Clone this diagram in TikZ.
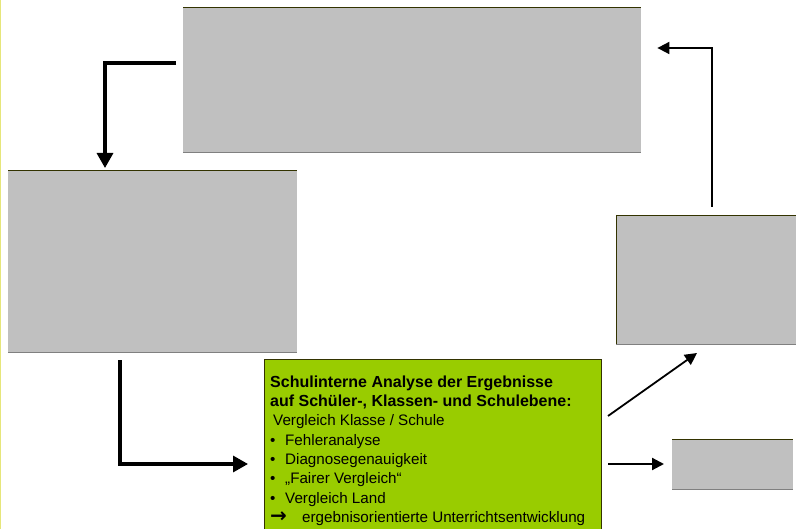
\documentclass[tikz,border=0pt]{standalone}
\usepackage{fontspec}
\setmainfont{Liberation Sans}
\newfontfamily\arrowfont{DejaVu Sans}
\usepackage{tikz}
\usetikzlibrary{arrows.meta}
\usetikzlibrary{positioning}

\definecolor{boxgray}{HTML}{C0C0C0}
\definecolor{boxtop}{HTML}{333300}
\definecolor{boxbottom}{HTML}{808080}
\definecolor{analysegreen}{HTML}{99CC00}
\definecolor{pageedge}{HTML}{E6E67A}

\begin{document}
\begin{tikzpicture}[x=1pt, y=-1pt,
        graybox/.style={fill=boxgray, draw=none, inner sep=0pt, anchor=north west},
        fatarrow/.style={line width=3.2pt, -{Triangle[length=15pt, width=16pt]}},
        thinarrow/.style={line width=2.2pt, -{Triangle[length=12pt, width=12pt]}}]
                \useasboundingbox (0,0) rectangle (796,529);
                \draw[pageedge, line width=1.2pt] (0.6,0) -- (0.6,529);

                % grey boxes
                \node[graybox, minimum width=458pt, minimum height=145pt] (plan) at (183,7) {};
                \node[graybox, minimum width=289pt, minimum height=182pt] (test) at (8,170) {};
                \node[graybox, minimum width=180pt, minimum height=129pt] (massnahmen) at (616,215) {};
                \node[graybox, minimum width=121pt, minimum height=50pt] (weitere) at (672,439) {};
                \foreach \b in {plan, test, massnahmen, weitere} {
                    \draw[boxtop, line width=0.8pt] (\b.north west) -- (\b.north east);
                    \draw[boxbottom, line width=0.8pt] (\b.south west) -- (\b.south east);
                }
                \draw[boxtop, line width=0.8pt] (massnahmen.north west) -- (massnahmen.south west);

                % green analysis box
                \filldraw[fill=analysegreen, draw=boxtop, line width=0.9pt] (264,359) rectangle (601,540);
                \node[anchor=north west, inner sep=0pt, align=left,
                      font=\fontsize{15.2}{19.3}\selectfont] (analyse) at (270,375.5)
                    {{\fontsize{16}{19.3}\selectfont\textbf{Schulinterne Analyse der Ergebnisse}}\\
                     {\fontsize{16}{19.3}\selectfont\textbf{auf Schüler-, Klassen- und Schulebene:}}\\
                     \hspace{3pt}Vergleich Klasse / Schule\\
                     \makebox[15pt][l]{•}Fehleranalyse\\
                     \makebox[15pt][l]{•}Diagnosegenauigkeit\\
                     \makebox[15pt][l]{•}„Fairer Vergleich“\\
                     \makebox[15pt][l]{•}Vergleich Land\\
                     \makebox[32pt][l]{\arrowfont\fontsize{20}{19.3}\selectfont\textbf{→}}ergebnisorientierte Unterrichtsentwicklung};
                \coordinate (analyse west) at (264,464);
                \coordinate (analyse east) at (601,464);

                % connectors
                \draw[fatarrow] ([xshift=-7pt]plan.north west |- 0,63) -| ([yshift=2pt]test.north -| 105,0);
                \draw[fatarrow] ([yshift=-8pt]test.south -| 120,0) |- ([xshift=-16pt]analyse west);
                \draw[thinarrow, line width=1.8pt] ([xshift=7pt]analyse east |- 0,416) -- (697,353);
                \draw[thinarrow] ([xshift=7pt]analyse east) -- ([xshift=-8pt]weitere.west |- analyse east);
                \draw[thinarrow, line width=1.8pt] ([yshift=8pt]massnahmen.north -| 712,0) |- ([xshift=16pt]plan.north east |- 0,48);
\end{tikzpicture}
\end{document}
